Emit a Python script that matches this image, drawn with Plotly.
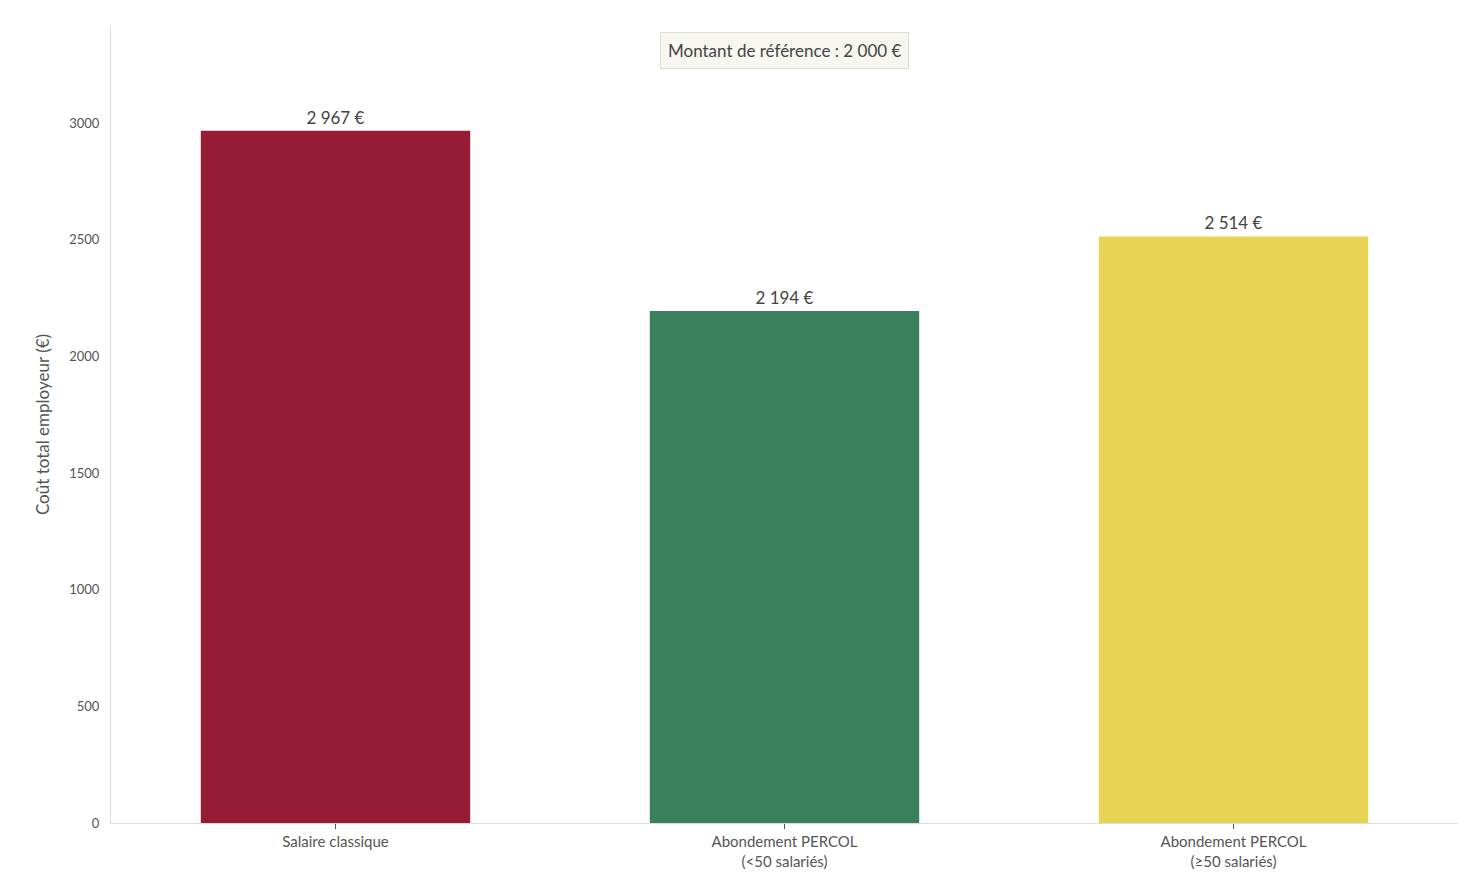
import plotly.graph_objects as go

categories = ["Salaire classique", "Abondement PERCOL<br>(<50 salariés)", "Abondement PERCOL<br>(≥50 salariés)"]
values = [2967, 2194, 2514]
labels = ["2 967 €", "2 194 €", "2 514 €"]
colors = ["#961C35", "#3A805C", "#E8D454"]

fig = go.Figure(go.Bar(
    x=categories, y=values, width=0.6, marker=dict(color=colors, line=dict(width=0)),
    text=labels, textposition="outside", textfont=dict(size=17, color="#444"),
    cliponaxis=False, hoverinfo="skip"))

fig.update_layout(
    width=1470, height=884, plot_bgcolor="white", paper_bgcolor="white",
    margin=dict(l=103, r=20, t=18, b=69),
    font=dict(family="Lato, sans-serif", color="#555", size=13),
    showlegend=False,
    annotations=[dict(text="Montant de référence : 2 000 €", x=0.5, y=42, xref="paper", yref="paper",
                      showarrow=False, font=dict(size=17, color="#444"), bgcolor="#F7F6F1",
                      bordercolor="#DDDBD3", borderwidth=1, borderpad=7)],
)
fig.layout.annotations[0].update(y=1 - (42 - 18) / (884 - 18 - 69), yanchor="middle")
fig.update_xaxes(showline=True, linecolor="#DDDDDD", ticks="outside", ticklen=5, tickcolor="#555",
                 tickfont=dict(size=15, color="#555"))
fig.update_yaxes(range=[0, 3416], showline=True, linecolor="#DDDDDD", showgrid=False, zeroline=False,
                 tickvals=[0, 500, 1000, 1500, 2000, 2500, 3000], tickfont=dict(size=13, color="#555"),
                 title=dict(text="Coût total employeur (€)", font=dict(size=17, color="#555")), ticklen=8, ticks="outside", tickcolor="white")
fig.write_html("out.html")
